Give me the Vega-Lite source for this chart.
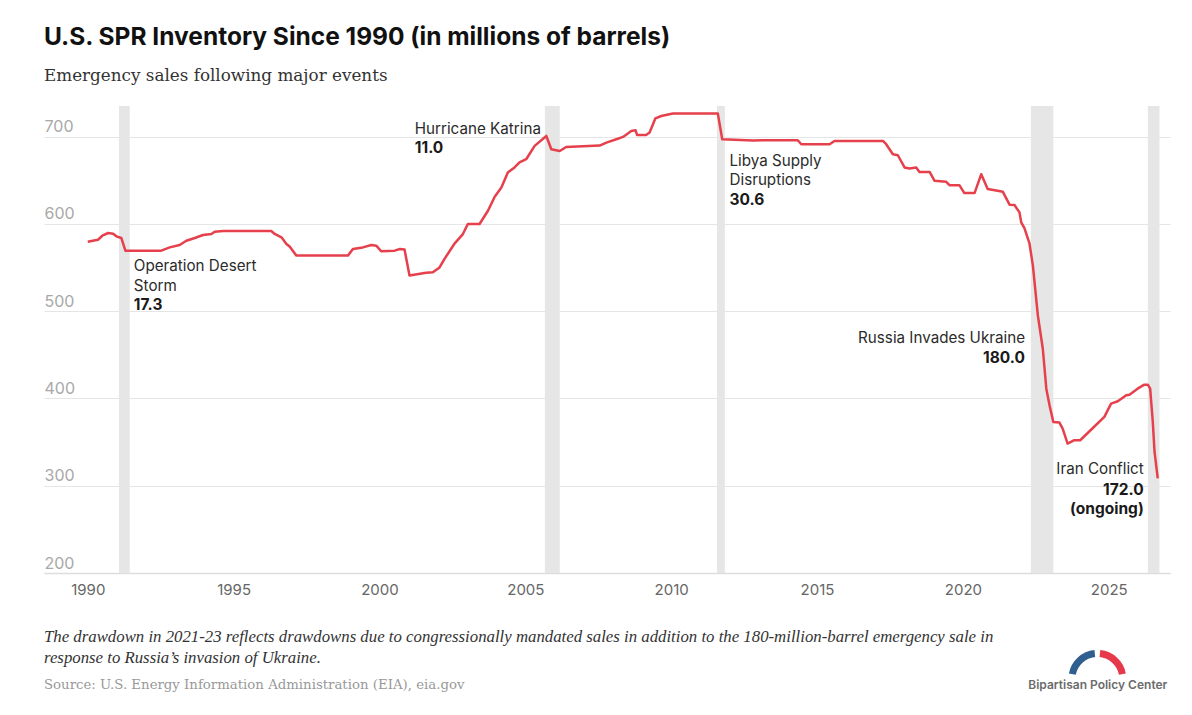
{
  "$schema": "https://vega.github.io/schema/vega-lite/v6.json",
  "padding": {"left": 44, "right": 22, "top": 24, "bottom": 0},
  "background": "white",
  "title": {
    "text": "U.S. SPR Inventory Since 1990 (in millions of barrels)",
    "subtitle": "Emergency sales following major events",
    "anchor": "start",
    "frame": "group",
    "font": "Inter",
    "fontSize": 24.5,
    "fontWeight": 700,
    "color": "#111111",
    "subtitleFont": "DejaVu Serif",
    "subtitleFontSize": 16.8,
    "subtitleColor": "#333333",
    "subtitlePadding": 18,
    "offset": 20
  },
  "datasets": {
    "spr": [
      {"year": 1990.0, "value": 579.5},
      {"year": 1990.35, "value": 581.8},
      {"year": 1990.5, "value": 586.4},
      {"year": 1990.7, "value": 589.5},
      {"year": 1990.87, "value": 588.7},
      {"year": 1990.98, "value": 585.7},
      {"year": 1991.15, "value": 583.8},
      {"year": 1991.29, "value": 569.3},
      {"year": 1992.52, "value": 569.3},
      {"year": 1992.81, "value": 573.0},
      {"year": 1993.15, "value": 575.8},
      {"year": 1993.38, "value": 580.7},
      {"year": 1993.67, "value": 583.8},
      {"year": 1993.95, "value": 587.2},
      {"year": 1994.24, "value": 588.4},
      {"year": 1994.35, "value": 591.0},
      {"year": 1994.64, "value": 591.8},
      {"year": 1996.29, "value": 591.8},
      {"year": 1996.41, "value": 588.4},
      {"year": 1996.64, "value": 584.6},
      {"year": 1996.81, "value": 577.0},
      {"year": 1996.92, "value": 574.0},
      {"year": 1997.15, "value": 563.6},
      {"year": 1998.92, "value": 563.6},
      {"year": 1999.09, "value": 571.2},
      {"year": 1999.43, "value": 573.0},
      {"year": 1999.72, "value": 575.8},
      {"year": 1999.89, "value": 575.0},
      {"year": 2000.06, "value": 568.6},
      {"year": 2000.52, "value": 569.3},
      {"year": 2000.7, "value": 571.2},
      {"year": 2000.86, "value": 570.5},
      {"year": 2001.03, "value": 540.7},
      {"year": 2001.6, "value": 544.0},
      {"year": 2001.83, "value": 544.5},
      {"year": 2002.06, "value": 550.0},
      {"year": 2002.23, "value": 559.8},
      {"year": 2002.58, "value": 577.7},
      {"year": 2002.86, "value": 588.3},
      {"year": 2003.03, "value": 599.8},
      {"year": 2003.43, "value": 599.8},
      {"year": 2003.72, "value": 615.0},
      {"year": 2003.95, "value": 631.0},
      {"year": 2004.18, "value": 641.7},
      {"year": 2004.4, "value": 658.9},
      {"year": 2004.63, "value": 664.6},
      {"year": 2004.8, "value": 670.3},
      {"year": 2005.03, "value": 674.0},
      {"year": 2005.32, "value": 689.3},
      {"year": 2005.72, "value": 700.7},
      {"year": 2005.89, "value": 685.5},
      {"year": 2006.18, "value": 683.5},
      {"year": 2006.4, "value": 688.1},
      {"year": 2007.55, "value": 689.7},
      {"year": 2007.78, "value": 693.1},
      {"year": 2008.12, "value": 696.9},
      {"year": 2008.35, "value": 699.6},
      {"year": 2008.63, "value": 706.4},
      {"year": 2008.78, "value": 707.2},
      {"year": 2008.83, "value": 701.8},
      {"year": 2009.14, "value": 701.8},
      {"year": 2009.26, "value": 704.6},
      {"year": 2009.46, "value": 720.9},
      {"year": 2009.66, "value": 723.5},
      {"year": 2010.06, "value": 726.3},
      {"year": 2011.6, "value": 726.3},
      {"year": 2011.75, "value": 696.9},
      {"year": 2012.8, "value": 695.5},
      {"year": 2013.15, "value": 695.8},
      {"year": 2014.34, "value": 695.8},
      {"year": 2014.46, "value": 691.2},
      {"year": 2015.43, "value": 691.2},
      {"year": 2015.6, "value": 695.0},
      {"year": 2017.26, "value": 695.0},
      {"year": 2017.37, "value": 691.2},
      {"year": 2017.6, "value": 679.8},
      {"year": 2017.77, "value": 678.6},
      {"year": 2018.0, "value": 664.6},
      {"year": 2018.17, "value": 663.4},
      {"year": 2018.4, "value": 664.6},
      {"year": 2018.51, "value": 659.5},
      {"year": 2018.86, "value": 659.5},
      {"year": 2019.03, "value": 649.3},
      {"year": 2019.43, "value": 648.1},
      {"year": 2019.54, "value": 644.3},
      {"year": 2019.88, "value": 644.3},
      {"year": 2020.05, "value": 635.2},
      {"year": 2020.4, "value": 635.2},
      {"year": 2020.63, "value": 656.9},
      {"year": 2020.85, "value": 639.8},
      {"year": 2021.19, "value": 637.8},
      {"year": 2021.37, "value": 636.7},
      {"year": 2021.6, "value": 622.0},
      {"year": 2021.77, "value": 621.5},
      {"year": 2021.94, "value": 613.1},
      {"year": 2022.0, "value": 601.7},
      {"year": 2022.11, "value": 595.0},
      {"year": 2022.28, "value": 578.0},
      {"year": 2022.4, "value": 552.1},
      {"year": 2022.57, "value": 495.0},
      {"year": 2022.74, "value": 456.9},
      {"year": 2022.86, "value": 411.2},
      {"year": 2022.97, "value": 392.1},
      {"year": 2023.1, "value": 373.1},
      {"year": 2023.31, "value": 372.3},
      {"year": 2023.42, "value": 365.5},
      {"year": 2023.59, "value": 348.3},
      {"year": 2023.82, "value": 352.1},
      {"year": 2024.02, "value": 352.1},
      {"year": 2024.34, "value": 362.4},
      {"year": 2024.85, "value": 378.9},
      {"year": 2025.08, "value": 394.1},
      {"year": 2025.31, "value": 396.7},
      {"year": 2025.6, "value": 403.6},
      {"year": 2025.71, "value": 404.3},
      {"year": 2025.99, "value": 411.2},
      {"year": 2026.22, "value": 415.8},
      {"year": 2026.34, "value": 415.8},
      {"year": 2026.42, "value": 411.2},
      {"year": 2026.51, "value": 373.1},
      {"year": 2026.57, "value": 338.9},
      {"year": 2026.68, "value": 308.3}
    ],
    "events": [
      {"event": "Operation Desert Storm", "start": 1991.07, "end": 1991.44},
      {"event": "Hurricane Katrina", "start": 2005.67, "end": 2006.18},
      {"event": "Libya Supply Disruptions", "start": 2011.57, "end": 2011.84},
      {"event": "Russia Invades Ukraine", "start": 2022.33, "end": 2023.1},
      {"event": "Iran Conflict", "start": 2026.34, "end": 2026.74}
    ],
    "notes": [
      {"label": "Operation Desert\nStorm", "sale": "17.3", "year": 1991.58, "label_at": 545.8, "sale_at": 501.5, "side": "left"},
      {"label": "Hurricane Katrina", "sale": "11.0", "year": 2001.21, "label_at": 703.4, "sale_at": 680.9, "side": "left"},
      {"label": "Libya Supply\nDisruptions", "sale": "30.6", "year": 2012.0, "label_at": 666.3, "sale_at": 621.3, "side": "left"},
      {"label": "Russia Invades Ukraine", "sale": "180.0", "year": 2022.13, "label_at": 463.3, "sale_at": 440.4, "side": "right"},
      {"label": "Iran Conflict", "sale": "172.0\n(ongoing)", "year": 2026.2, "label_at": 313.4, "sale_at": 289.7, "side": "right"}
    ]
  },
  "vconcat": [
    {
      "width": 1126,
      "height": 467,
      "title": {
        "text": [
          "The drawdown in 2021-23 reflects drawdowns due to congressionally mandated sales in addition to the 180-million-barrel emergency sale in",
          "response to Russia’s invasion of Ukraine."
        ],
        "subtitle": "Source: U.S. Energy Information Administration (EIA), eia.gov",
        "orient": "bottom",
        "anchor": "start",
        "frame": "group",
        "font": "Liberation Serif",
        "fontStyle": "italic",
        "fontWeight": "normal",
        "fontSize": 16.8,
        "lineHeight": 21.5,
        "color": "#333333",
        "subtitleFont": "DejaVu Serif",
        "subtitleFontSize": 13.3,
        "subtitleColor": "#999999",
        "subtitlePadding": 11,
        "offset": 0,
        "dy": -62
      },
      "layer": [
        {
          "data": {"name": "events"},
          "mark": {"type": "rect", "color": "#e6e6e6"},
          "encoding": {
            "x": {
              "field": "start",
              "type": "quantitative",
              "scale": {"domain": [1988.5, 2027.1], "nice": false, "zero": false},
              "axis": {
                "values": [1990, 1995, 2000, 2005, 2010, 2015, 2020, 2025],
                "format": "d",
                "title": null,
                "grid": false,
                "ticks": false,
                "domainColor": "#dddddd",
                "domainWidth": 1.5,
                "labelFont": "Inter",
                "labelFontSize": 15,
                "labelColor": "#666666",
                "labelPadding": 9
              }
            },
            "x2": {"field": "end"},
            "y": {
              "datum": 735,
              "type": "quantitative",
              "scale": {"domain": [200, 735], "nice": false, "zero": false},
              "axis": {
                "values": [200, 300, 400, 500, 600, 700],
                "title": null,
                "domain": false,
                "ticks": false,
                "tickSize": 0,
                "grid": true,
                "gridColor": "#e5e5e5",
                "labelAlign": "left",
                "labelBaseline": "alphabetic",
                "labelPadding": 0,
                "labelOffset": -5,
                "labelFont": "Inter",
                "labelFontSize": 16,
                "labelColor": "#a8a8a8",
                "minExtent": 0
              }
            },
            "y2": {"datum": 200}
          }
        },
        {
          "data": {"name": "spr"},
          "mark": {"type": "line", "color": "#e5404b", "strokeWidth": 2.5, "strokeJoin": "round"},
          "encoding": {
            "x": {"field": "year", "type": "quantitative"},
            "y": {"field": "value", "type": "quantitative"}
          }
        },
        {
          "data": {"name": "notes"},
          "transform": [{"filter": "datum.side === 'left'"}],
          "mark": {"type": "text", "align": "left", "baseline": "alphabetic", "font": "Inter", "fontSize": 15.2, "color": "#2b2b2b", "lineBreak": "\n", "lineHeight": 19.5},
          "encoding": {
            "x": {"field": "year", "type": "quantitative"},
            "y": {"field": "label_at", "type": "quantitative"},
            "text": {"field": "label"}
          }
        },
        {
          "data": {"name": "notes"},
          "transform": [{"filter": "datum.side === 'left'"}],
          "mark": {"type": "text", "align": "left", "baseline": "alphabetic", "font": "Inter", "fontSize": 15.5, "fontWeight": 700, "color": "#1a1a1a", "lineBreak": "\n", "lineHeight": 19.5},
          "encoding": {
            "x": {"field": "year", "type": "quantitative"},
            "y": {"field": "sale_at", "type": "quantitative"},
            "text": {"field": "sale"}
          }
        },
        {
          "data": {"name": "notes"},
          "transform": [{"filter": "datum.side === 'right'"}],
          "mark": {"type": "text", "align": "right", "baseline": "alphabetic", "font": "Inter", "fontSize": 15.2, "color": "#2b2b2b", "lineBreak": "\n", "lineHeight": 19.5},
          "encoding": {
            "x": {"field": "year", "type": "quantitative"},
            "y": {"field": "label_at", "type": "quantitative"},
            "text": {"field": "label"}
          }
        },
        {
          "data": {"name": "notes"},
          "transform": [{"filter": "datum.side === 'right'"}],
          "mark": {"type": "text", "align": "right", "baseline": "alphabetic", "font": "Inter", "fontSize": 15.5, "fontWeight": 700, "color": "#1a1a1a", "lineBreak": "\n", "lineHeight": 19.5},
          "encoding": {
            "x": {"field": "year", "type": "quantitative"},
            "y": {"field": "sale_at", "type": "quantitative"},
            "text": {"field": "sale"}
          }
        },
        {
          "data": {"values": [{"org": "Bipartisan Policy Center"}]},
          "mark": {"type": "text", "align": "right", "baseline": "alphabetic", "font": "Inter", "fontSize": 12, "fontWeight": 600, "color": "#6b6b6b"},
          "encoding": {
            "x": {"datum": 2027.01, "type": "quantitative"},
            "y": {"datum": 67.2, "type": "quantitative"},
            "text": {"field": "org"}
          }
        },
        {
          "data": {"values": [{"part": "blue"}]},
          "mark": {"type": "arc", "theta": -1.38, "theta2": -0.1, "radius": 29, "radius2": 22, "color": "#2f5f8f"},
          "encoding": {
            "x": {"datum": 2024.61, "type": "quantitative"},
            "y": {"datum": 78.6, "type": "quantitative"}
          }
        },
        {
          "data": {"values": [{"part": "red"}]},
          "mark": {"type": "arc", "theta": 0.1, "theta2": 1.38, "radius": 29, "radius2": 22, "color": "#e63a4c"},
          "encoding": {
            "x": {"datum": 2024.61, "type": "quantitative"},
            "y": {"datum": 78.6, "type": "quantitative"}
          }
        }
      ]
    }
  ],
  "config": {
    "view": {"stroke": null},
    "font": "Inter"
  }
}
